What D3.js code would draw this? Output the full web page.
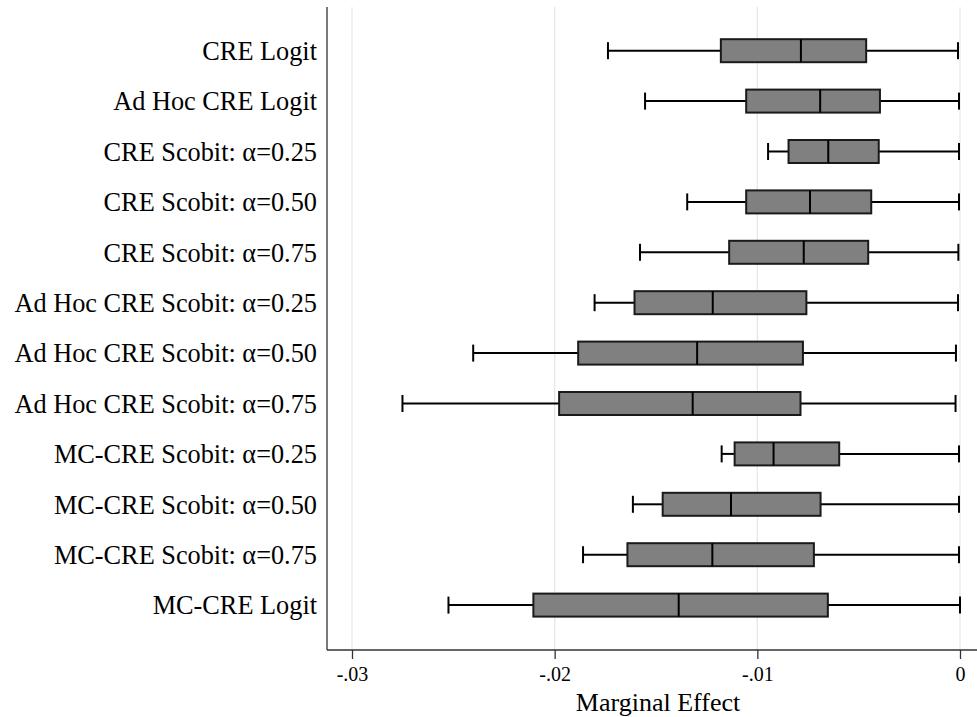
<!DOCTYPE html>
<html><head><meta charset="utf-8">
<script src="https://cdn.jsdelivr.net/npm/d3@7"></script>
<style>body{margin:0;background:#fff}svg{display:block}</style>
</head><body>
<svg id="c" width="977" height="717"></svg>
<script>
const categories = ["CRE Logit","Ad Hoc CRE Logit","CRE Scobit: α=0.25","CRE Scobit: α=0.50","CRE Scobit: α=0.75","Ad Hoc CRE Scobit: α=0.25","Ad Hoc CRE Scobit: α=0.50","Ad Hoc CRE Scobit: α=0.75","MC-CRE Scobit: α=0.25","MC-CRE Scobit: α=0.50","MC-CRE Scobit: α=0.75","MC-CRE Logit"];
const minVals = [-0.01737,-0.01554,-0.00947,-0.01346,-0.01579,-0.01803,-0.02402,-0.02751,-0.01176,-0.01614,-0.01860,-0.02524];
const q1Vals  = [-0.01180,-0.01055,-0.00846,-0.01055,-0.01139,-0.01606,-0.01884,-0.01978,-0.01112,-0.01467,-0.01641,-0.02105];
const medVals = [-0.00785,-0.00690,-0.00650,-0.00740,-0.00771,-0.01220,-0.01297,-0.01319,-0.00920,-0.01130,-0.01222,-0.01388];
const q3Vals  = [-0.00463,-0.00395,-0.00401,-0.00438,-0.00453,-0.00758,-0.00775,-0.00787,-0.00596,-0.00688,-0.00721,-0.00652];
const maxVals = [-0.00010,-0.00005,-0.00005,-0.00005,-0.00008,-0.00010,-0.00020,-0.00022,-0.00005,-0.00005,-0.00005,0.00000];
const xTicks = [-0.03,-0.02,-0.01,0];
const xTickLabels = ["-.03","-.02","-.01","0"];

const svg = d3.select("#c");
const L = 327, T = 7, B = 650, R = 977;
const x = d3.scaleLinear().domain([-0.03, 0]).range([352, 960]);
const y = d3.scalePoint().domain(categories).range([50.7, 605.1]);
const font = "'Liberation Serif','Times New Roman',serif";

// gridlines
svg.append("g").selectAll("line").data(xTicks).join("line")
  .attr("x1", d => x(d)).attr("x2", d => x(d)).attr("y1", T).attr("y2", B)
  .attr("stroke", "#e6e6e6").attr("stroke-width", 1.2);

const data = categories.map((c, i) => ({c, min: minVals[i], q1: q1Vals[i], med: medVals[i], q3: q3Vals[i], max: maxVals[i]}));
const bh = 23, ch = 17;
const g = svg.append("g").selectAll("g").data(data).join("g");
g.append("line").attr("x1", d => x(d.min)).attr("x2", d => x(d.q1)).attr("y1", d => y(d.c)).attr("y2", d => y(d.c)).attr("stroke", "#000").attr("stroke-width", 2);
g.append("line").attr("x1", d => x(d.q3)).attr("x2", d => x(d.max)).attr("y1", d => y(d.c)).attr("y2", d => y(d.c)).attr("stroke", "#000").attr("stroke-width", 2);
g.append("line").attr("x1", d => x(d.min)).attr("x2", d => x(d.min)).attr("y1", d => y(d.c) - ch/2).attr("y2", d => y(d.c) + ch/2).attr("stroke", "#000").attr("stroke-width", 2);
g.append("line").attr("x1", d => x(d.max)).attr("x2", d => x(d.max)).attr("y1", d => y(d.c) - ch/2).attr("y2", d => y(d.c) + ch/2).attr("stroke", "#000").attr("stroke-width", 2);
g.append("rect").attr("x", d => x(d.q1)).attr("width", d => x(d.q3) - x(d.q1)).attr("y", d => y(d.c) - bh/2).attr("height", bh)
  .attr("fill", "#808080").attr("stroke", "#1a1a1a").attr("stroke-width", 2);
g.append("line").attr("x1", d => x(d.med)).attr("x2", d => x(d.med)).attr("y1", d => y(d.c) - bh/2).attr("y2", d => y(d.c) + bh/2).attr("stroke", "#000").attr("stroke-width", 2);

// left axis line
svg.append("line").attr("x1", L).attr("x2", L).attr("y1", T).attr("y2", B).attr("stroke", "#333").attr("stroke-width", 1.3);
// category labels
svg.append("g").selectAll("text").data(categories).join("text")
  .attr("x", 317).attr("y", d => y(d)).attr("dy", "0.35em").attr("text-anchor", "end")
  .attr("font-family", font).attr("font-size", 26.3).attr("fill", "#000").text(d => d);

// bottom axis
const xAxis = d3.axisBottom(x).tickValues(xTicks).tickFormat((d, i) => xTickLabels[i]).tickSize(9).tickPadding(8);
const ax = svg.append("g").attr("transform", `translate(0,${B})`).call(xAxis);
ax.select(".domain").remove();
ax.append("line").attr("x1", L).attr("x2", R).attr("y1", 0).attr("y2", 0).attr("stroke", "#333").attr("stroke-width", 1.3);
ax.selectAll(".tick line").attr("stroke", "#333").attr("stroke-width", 1.3);
ax.selectAll(".tick text").attr("font-family", font).attr("font-size", 20).attr("fill", "#000");

svg.append("text").attr("x", x(-0.015) + 2).attr("y", 711).attr("text-anchor", "middle")
  .attr("font-family", font).attr("font-size", 26).attr("fill", "#000").text("Marginal Effect");
</script>
</body></html>
